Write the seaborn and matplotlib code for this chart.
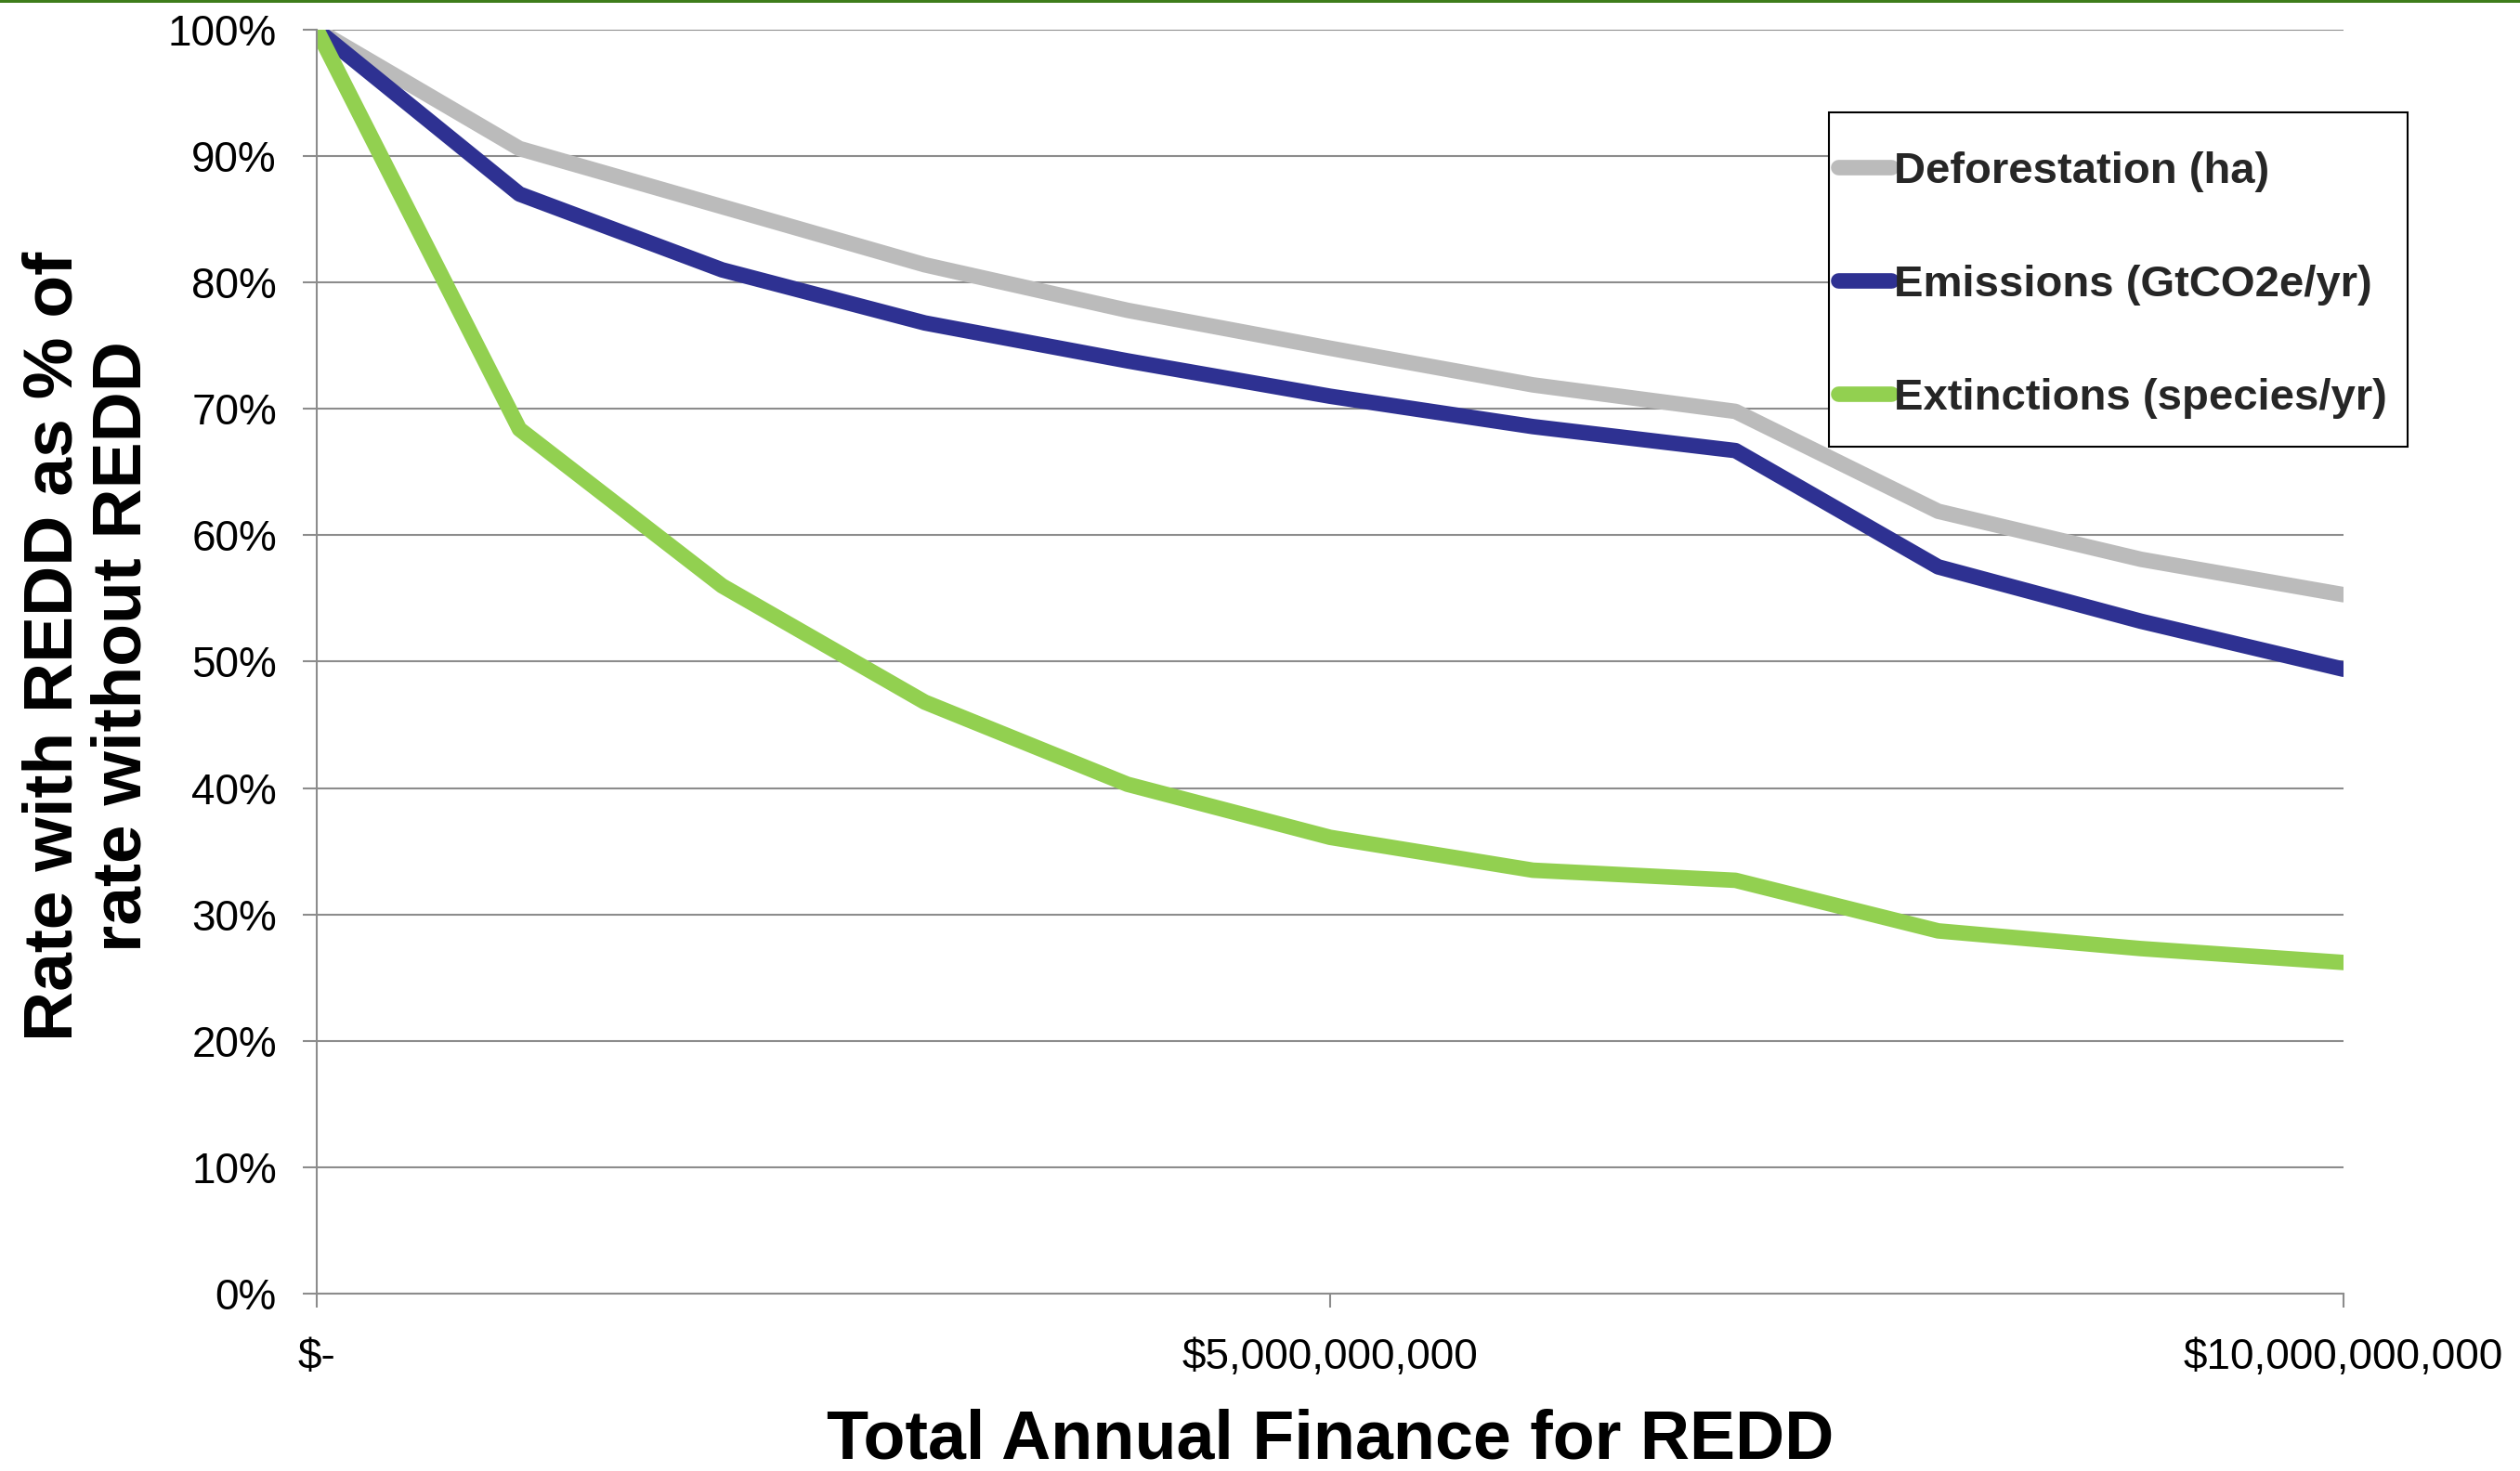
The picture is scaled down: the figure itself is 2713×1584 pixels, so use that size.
import numpy as np
import pandas as pd
import matplotlib
matplotlib.use("Agg")
import matplotlib.pyplot as plt
from matplotlib.patches import Rectangle
from matplotlib.ticker import FuncFormatter, MultipleLocator
import seaborn as sns

# Annual REDD finance (US$) and resulting rates relative to the no-REDD baseline (%)
finance = [0, 1e9, 2e9, 3e9, 4e9, 5e9, 6e9, 7e9, 8e9, 9e9, 1e10]
deforestation = [100, 90.6, 86.0, 81.4, 77.8, 74.8, 71.9, 69.8, 61.9, 58.1, 55.3]
emissions = [100, 87.0, 81.0, 76.8, 73.8, 71.0, 68.6, 66.7, 57.5, 53.2, 49.4]
extinctions = [100, 68.4, 56.0, 46.8, 40.3, 36.1, 33.5, 32.7, 28.7, 27.3, 26.2]

series_names = ["Deforestation (ha)", "Emissions (GtCO2e/yr)", "Extinctions (species/yr)"]
series_colors = ["#BBBBBB", "#2E3192", "#92D050"]

df = pd.concat(
    [
        pd.DataFrame({"finance": finance, "rate": np.array(vals) / 100.0, "series": name})
        for name, vals in zip(series_names, [deforestation, emissions, extinctions])
    ],
    ignore_index=True,
)

sns.set_theme(style="white")
plt.rcParams["font.family"] = ["Liberation Sans", "DejaVu Sans"]

W, H = 2713, 1584
LW = 12
fig = plt.figure(figsize=(W / 100, H / 100), dpi=100)
ax = fig.add_axes([341 / W, 1 - 1393 / H, (2523 - 341) / W, (1393 - 32) / H])

sns.lineplot(
    data=df, x="finance", y="rate", hue="series",
    palette=dict(zip(series_names, series_colors)),
    hue_order=series_names, linewidth=LW, sort=False, ax=ax, legend=True,
)

grid_col = "#8C8C8C"
ax.set_xlim(0, 1e10)
ax.set_ylim(0, 1)
ax.yaxis.set_major_locator(MultipleLocator(0.1))
ax.xaxis.set_major_locator(MultipleLocator(5e9))
ax.yaxis.set_major_formatter(FuncFormatter(lambda v, p: f"{v * 100:.0f}%"))
ax.xaxis.set_major_formatter(FuncFormatter(lambda v, p: "$-" if v == 0 else f"${v:,.0f}"))

ax.set_axisbelow(True)
ax.yaxis.grid(True, color=grid_col, linewidth=1.5)
ax.xaxis.grid(False)
for side in ["top", "right"]:
    ax.spines[side].set_visible(False)
for side in ["left", "bottom"]:
    ax.spines[side].set_color(grid_col)
    ax.spines[side].set_linewidth(1.5)

ax.tick_params(axis="both", which="major", direction="out", length=11, width=1.5,
               color=grid_col, pad=20, labelsize=33, labelcolor="black",
               bottom=True, left=True)
ax.tick_params(axis="x", pad=23)

ax.set_xlabel("Total Annual Finance for REDD", fontsize=53, fontweight="bold", color="black")
ax.xaxis.set_label_coords(0.5, -0.091)
ax.set_ylabel("Rate with REDD as % of\nrate without REDD", fontsize=54,
              fontweight="bold", color="black", linespacing=1.1)
ax.yaxis.set_label_coords(-0.08, 0.512)

# legend entries, with a plain black box drawn around them
handles, labels = ax.get_legend_handles_labels()
leg = ax.legend(
    handles, labels, loc="upper left",
    bbox_to_anchor=(1979 / W, 1 - 163 / H), bbox_transform=fig.transFigure,
    borderaxespad=0, borderpad=0,
    prop={"family": "Liberation Sans", "weight": "bold", "size": 34},
    frameon=False, handlelength=1.2, handletextpad=0.08, labelspacing=1.65,
)
for ln in leg.get_lines():
    ln.set_solid_capstyle("round")
    ln.set_linewidth(LW)
leg.set_zorder(6)

box = Rectangle((1969 / W, 1 - 481 / H), (2592 - 1969) / W, (481 - 121) / H,
                transform=fig.transFigure, facecolor="white",
                edgecolor="black", linewidth=1.5, zorder=5, clip_on=False)
ax.add_artist(box)

# thin green rule along the top edge
fig.add_artist(Rectangle((0, 1 - 3 / H), 1, 3 / H, transform=fig.transFigure,
                         color="#3E7D1B", linewidth=0))

fig.savefig("out.png", dpi=100, facecolor="white")
